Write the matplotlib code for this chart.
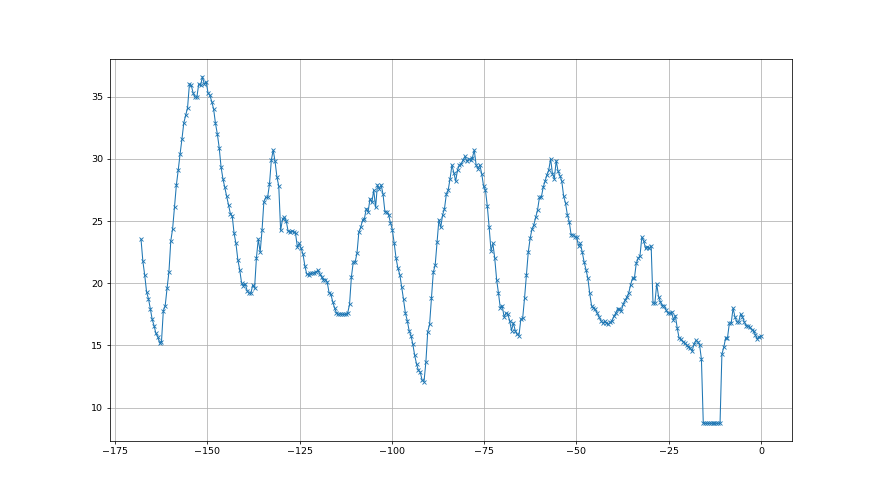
import numpy as np
import matplotlib
matplotlib.use("Agg")
import matplotlib.pyplot as plt

# temperature-like series (uniform time steps, hours before now)
seg_a = [23.55, 21.77, 20.65, 19.3, 18.76, 17.96, 17.1, 16.6, 15.97, 15.7, 15.2, 15.3,
         17.8, 18.2, 19.6, 20.9, 23.4, 24.4, 26.1, 27.9, 29.1, 30.4, 31.6, 32.9, 33.5,
         34.1, 36.0, 35.9, 35.3, 34.95, 34.95, 36.0, 35.9, 36.6, 36.0, 36.2, 35.3, 35.1,
         34.6, 34.0, 32.85, 32.0, 30.9, 29.35, 28.4, 27.7, 27.0, 26.3, 25.6, 25.4, 24.0,
         23.2, 21.9, 21.1]
seg_b = [20.05, 19.8, 19.95, 19.4, 19.2, 19.2, 19.85, 19.6, 22.05, 23.55, 22.5, 24.25,
         26.56, 26.9, 26.9, 27.95, 29.9, 30.7, 29.8, 28.55, 27.8, 24.25, 25.15, 25.3, 25.0,
         24.2, 24.15, 24.2, 24.15, 24.0, 22.9, 23.2, 22.8, 22.35, 21.4, 20.75, 20.7, 20.8,
         20.8, 20.85, 20.9, 21.05, 20.75, 20.5, 20.3, 20.3, 20.1, 19.25, 19.1, 18.5, 18.0,
         17.6, 17.5, 17.55, 17.5]
seg_c = [17.5, 17.5, 17.6, 18.3, 20.5, 21.7, 21.7, 22.4, 24.1, 24.5, 25.05, 25.2, 26.0,
         25.75, 26.8, 26.5, 27.5, 26.1, 27.9, 27.6, 27.9, 27.15, 25.75, 25.75, 25.5, 24.85,
         24.3, 23.2, 22.0, 21.2, 20.7, 19.7, 18.7, 17.6, 17.0, 16.2, 15.8, 15.1, 14.2, 13.5,
         13.0, 12.85, 12.2, 12.1, 13.65, 16.1, 16.7, 18.8, 20.9, 21.45, 23.3, 25.1, 24.5,
         25.5]
seg_d = [26.0, 27.15, 27.5, 28.4, 29.5, 28.9, 28.2, 29.1, 29.5, 29.6, 29.9, 30.2, 29.8,
         30.0, 29.9, 30.1, 30.7, 29.5, 29.2, 29.5, 28.8, 27.8, 27.5, 26.2, 24.5, 22.6, 23.2,
         22.0, 20.3, 19.2, 18.0, 18.2, 17.3, 17.6, 17.5, 17.0, 16.2, 16.8, 16.2, 15.9, 15.8,
         17.1, 17.2, 18.8, 20.7, 22.5, 23.6, 24.35, 24.7, 25.3, 25.9, 26.9, 26.9, 27.7, 28.2,
         28.7, 29.1, 30.0]
seg_e = [28.8, 28.4, 29.85, 29.0, 28.65, 28.2, 27.0, 26.45, 25.5, 24.95, 23.9, 23.9, 23.75,
         23.7, 23.0, 23.2, 22.5, 21.7, 21.1, 20.4, 19.2, 18.2, 18.05, 17.9, 17.6, 17.3, 17.0,
         16.8, 16.95, 16.8, 16.7, 16.85, 17.0, 17.35, 17.6, 17.95, 17.9, 17.8, 18.3, 18.65,
         18.9, 19.25, 19.9, 20.4, 20.4, 21.6, 22.0, 22.2, 23.7, 23.4, 22.8, 22.95, 22.8, 23.0,
         18.4]
seg_f = [18.4, 19.95, 18.9, 18.5, 18.2, 18.2, 17.85, 17.6, 17.6, 17.65, 17.05, 17.4, 16.4,
         15.6, 15.5, 15.3, 15.2, 15.05, 14.9, 14.8, 14.55, 15.1, 15.4, 15.3, 15.05, 13.9,
         8.75, 8.75, 8.75, 8.75, 8.75, 8.75, 8.75, 8.75, 8.75, 8.75,
         14.3, 14.85, 15.6, 15.6, 16.8, 16.8, 18.0, 17.3, 16.9, 16.9, 17.5, 17.3, 16.9, 16.6,
         16.55, 16.45, 16.25, 16.2, 15.85, 15.5, 15.7, 15.75]

values = seg_a + seg_b + seg_c + seg_d + seg_e + seg_f
start_hour = -168
end_hour = 0
hours = np.linspace(start_hour, end_hour, len(values))

fig, ax = plt.subplots(figsize=(12.8, 7.2), dpi=68.75)
ax.plot(hours, values, marker="x", color="tab:blue", linewidth=1.1,
        markersize=5, markeredgewidth=0.9)
ax.grid(True)
fig.savefig("out.png", dpi=68.75)
